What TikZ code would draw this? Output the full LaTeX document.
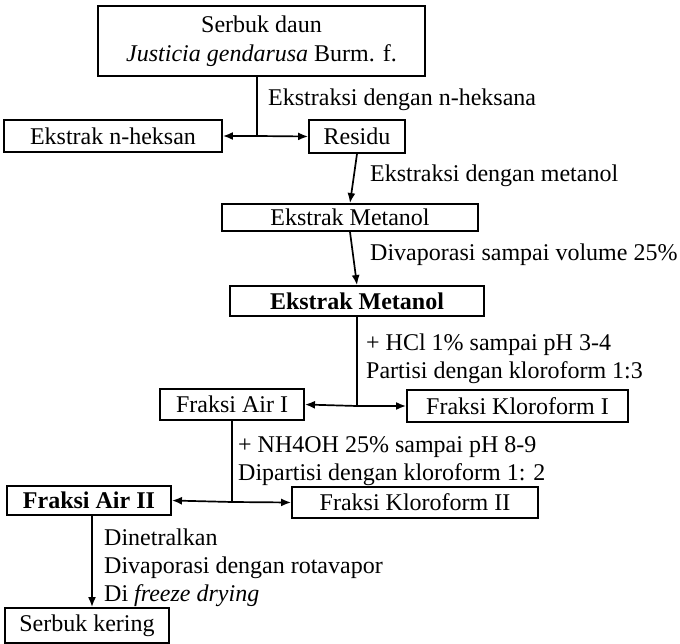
\documentclass[tikz,border=0pt]{standalone}
\usepackage{fontspec}
\setmainfont{Liberation Serif}
\usepackage{tikz}
\usetikzlibrary{arrows.meta}

\begin{document}
\begin{tikzpicture}[x=1pt, y=-1pt,
    box/.style={draw, rectangle, line width=1.9pt, inner sep=0pt, font=\fontsize{24}{29}\selectfont},
    heavy/.style={box, font=\fontsize{24}{29}\selectfont\bfseries},
    note/.style={anchor=west, inner sep=0pt, align=left, font=\fontsize{24}{28}\selectfont},
    stem/.style={line width=1.7pt},
    flow/.style={stem, -{Latex[length=10pt,width=8pt]}}]
    \useasboundingbox (0,0) rectangle (680,644);

    % boxes
    \node[box, minimum width=327pt, minimum height=70pt, align=center] (powder) at (261.5,41) {Serbuk daun\\\textit{Justicia gendarusa} Burm. f.};
    \node[box, minimum width=218pt, minimum height=32pt] (hexane) at (113,136) {Ekstrak n-heksan};
    \node[box, minimum width=96pt, minimum height=33pt] (residue) at (357,136.5) {Residu};
    \node[box, minimum width=256pt, minimum height=27pt] (meoh1) at (350,217.5) {Ekstrak Metanol};
    \node[heavy, minimum width=254pt, minimum height=30pt] (meoh2) at (357,301) {Ekstrak Metanol};
    \node[box, minimum width=144pt, minimum height=31pt] (water1) at (232,404.5) {Fraksi Air I};
    \node[box, minimum width=221pt, minimum height=32pt] (chloro1) at (517.5,406) {Fraksi Kloroform I};
    \node[heavy, minimum width=164pt, minimum height=29pt] (water2) at (89,500.5) {Fraksi Air II};
    \node[box, minimum width=246pt, minimum height=31pt] (chloro2) at (415,502.5) {Fraksi Kloroform II};
    \node[box, minimum width=164pt, minimum height=35pt] (dry) at (87,625.5) {Serbuk kering};

    % steps
    \node[note] (step1) at (268,100) {Ekstraksi dengan n-heksana};
    \node[note] (step2) at (370,176) {Ekstraksi dengan metanol};
    \node[note] (step3) at (370,255) {Divaporasi sampai volume 25\%};
    \node[note] (step4) at (366,359) {+ HCl 1\% sampai pH 3-4\\Partisi dengan kloroform 1:3};
    \node[note] (step5) at (238,461) {+ NH4OH 25\% sampai pH 8-9\\Dipartisi dengan kloroform 1: 2};
    \node[note] (step6) at (104,568) {Dinetralkan\\Divaporasi dengan rotavapor\\Di \textit{freeze drying}};

    % connectors
    \coordinate (fork1) at (257,136);
    \coordinate (fork2) at (357,406);
    \coordinate (fork3) at (232,502);
    \coordinate (drop) at (92,0);

    \draw[stem] (powder.south -| fork1) -- (fork1);
    \draw[flow] (fork1) -- (hexane.east);
    \draw[flow] (fork1) -- (residue.west);
    \draw[flow] (residue.south) -- (meoh1.north);
    \draw[flow] (meoh1.south) -- (meoh2.north);
    \draw[stem] (meoh2.south) -- (fork2);
    \draw[flow] (fork2) -- (water1.east);
    \draw[flow] (fork2) -- (chloro1.west);
    \draw[stem] (water1.south) -- (fork3);
    \draw[flow] (fork3) -- (water2.east);
    \draw[flow] (fork3) -- (chloro2.west);
    \draw[flow] (water2.south -| drop) -- (dry.north -| drop);
\end{tikzpicture}
\end{document}
